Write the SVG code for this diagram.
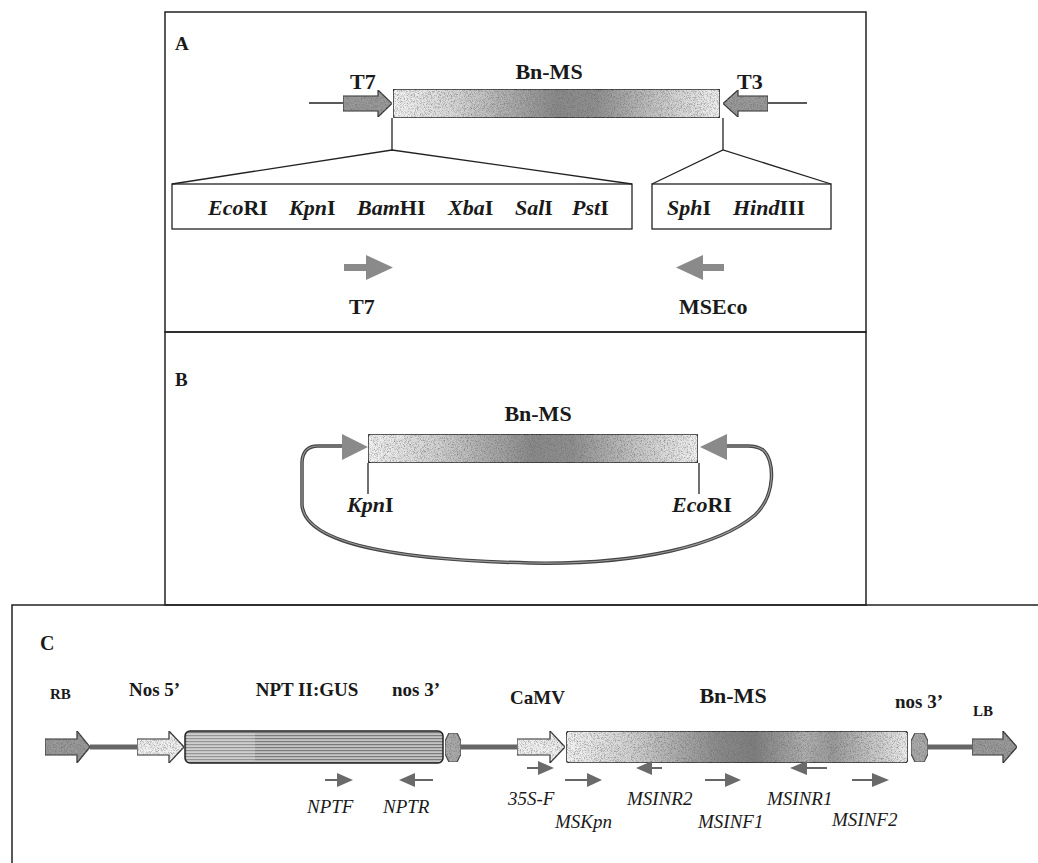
<svg xmlns="http://www.w3.org/2000/svg" width="1038" height="863" viewBox="0 0 1038 863">
<defs>
  <linearGradient id="gBar" x1="0" x2="1" y1="0" y2="0">
    <stop offset="0" stop-color="#f4f4f4"/>
    <stop offset="0.2" stop-color="#d4d4d4"/>
    <stop offset="0.5" stop-color="#8a8a8a"/>
    <stop offset="0.62" stop-color="#909090"/>
    <stop offset="0.85" stop-color="#d0d0d0"/>
    <stop offset="1" stop-color="#f2f2f2"/>
  </linearGradient>
  <linearGradient id="gBarC" x1="0" x2="1" y1="0" y2="0">
    <stop offset="0" stop-color="#f4f4f4"/>
    <stop offset="0.2" stop-color="#d0d0d0"/>
    <stop offset="0.45" stop-color="#8a8a8a"/>
    <stop offset="0.55" stop-color="#7e7e7e"/>
    <stop offset="0.7" stop-color="#b0b0b0"/>
    <stop offset="0.78" stop-color="#9a9a9a"/>
    <stop offset="1" stop-color="#eeeeee"/>
  </linearGradient>
  <pattern id="hstripe" width="4" height="3" patternUnits="userSpaceOnUse">
    <rect width="4" height="3" fill="#c4c4c4"/>
    <rect width="4" height="1.2" fill="#7a7a7a"/>
  </pattern>
  <filter id="grain" x="0" y="0" width="1" height="1">
    <feTurbulence type="fractalNoise" baseFrequency="1.3" numOctaves="1" seed="4" result="n"/>
    <feColorMatrix in="n" type="matrix" values="0 0 0 0 0.15  0 0 0 0 0.15  0 0 0 0 0.15  0 0 0 2.2 -0.95" result="dots"/>
    <feComposite in="dots" in2="SourceGraphic" operator="in" result="d2"/>
    <feMerge><feMergeNode in="SourceGraphic"/><feMergeNode in="d2"/></feMerge>
  </filter>
  <style>
    .border{fill:none;stroke:#222;stroke-width:1.5}
    .ln{fill:none;stroke:#222;stroke-width:1.3}
    .bar{fill:url(#gBar);stroke:#222;stroke-width:1.5;filter:url(#grain)}
    .barC{fill:url(#gBarC);stroke:#222;stroke-width:1.5;filter:url(#grain)}
    .garrow{fill:#9a9a9a;stroke:#333;stroke-width:1.2;filter:url(#grain)}
    .larrow{fill:#f0f0f0;stroke:#333;stroke-width:1.2;filter:url(#grain)}
    .sarrow{fill:#8a8a8a;stroke:none}
    .parrow{fill:#6a6a6a;stroke:none}
    .pline{stroke:#333;stroke-width:1.5;fill:none}
    .bb{stroke:#666;stroke-width:5;fill:none}
    .hex{fill:#aaa;stroke:#444;stroke-width:1.2;filter:url(#grain)}
    .t{font-family:"Liberation Serif","Times New Roman",serif;font-weight:bold;fill:#1a1a1a}
    .s22{font-size:22px}
    .s20{font-size:20px}
    .s19{font-size:19px}
    .s15{font-size:15px}
    .it{font-style:italic}
    .pr{font-family:"Liberation Serif","Times New Roman",serif;font-style:italic;font-size:19px;fill:#1a1a1a}
  </style>
</defs>

<g id="panels">
  <rect class="border" x="165" y="12" width="701" height="320"/>
  <rect class="border" x="165" y="332" width="701" height="273"/>
  <rect class="border" x="12" y="605" width="1040" height="270"/>
</g>

<g id="panelA">
  <text class="t s19" x="175" y="50">A</text>
  <g id="A-T7">
    <line class="ln" x1="309" y1="103" x2="343" y2="103"/>
    <path class="garrow" d="M343,96 L378,96 L378,90 L392,103.5 L378,117 L378,111 L343,111 Z"/>
    <text class="t s22" x="350" y="89">T7</text>
  </g>
  <g id="A-BnMS">
    <rect class="bar" x="393" y="89" width="327" height="29" rx="3"/>
    <text class="t s22" x="549" y="79" text-anchor="middle">Bn-MS</text>
  </g>
  <g id="A-T3">
    <line class="ln" x1="768" y1="103" x2="807" y2="103"/>
    <path class="garrow" d="M768,96 L738,96 L738,90 L723,103.5 L738,117 L738,111 L768,111 Z"/>
    <text class="t s22" x="737" y="89">T3</text>
  </g>
  <g id="A-MCS1">
    <rect class="ln" x="172" y="184" width="460" height="45"/>
    <text class="t s22" y="215"><tspan x="208" class="it">Eco</tspan><tspan>RI</tspan></text>
    <text class="t s22" y="215"><tspan x="289" class="it">Kpn</tspan><tspan>I</tspan></text>
    <text class="t s22" y="215"><tspan x="357" class="it">Bam</tspan><tspan>HI</tspan></text>
    <text class="t s22" y="215"><tspan x="448" class="it">Xba</tspan><tspan>I</tspan></text>
    <text class="t s22" y="215"><tspan x="515" class="it">Sal</tspan><tspan>I</tspan></text>
    <text class="t s22" y="215"><tspan x="572" class="it">Pst</tspan><tspan>I</tspan></text>
  </g>
  <g id="A-MCS2">
    <rect class="ln" x="652" y="184" width="179" height="45"/>
    <text class="t s22" y="215"><tspan x="667" class="it">Sph</tspan><tspan>I</tspan></text>
    <text class="t s22" y="215"><tspan x="733" class="it">Hind</tspan><tspan>III</tspan></text>
  </g>
  <g id="A-primerT7">
    <path class="sarrow" d="M344,264 L366,264 L366,255 L393,267.5 L366,280 L366,271 L344,271 Z"/>
    <text class="t s22" x="349" y="314">T7</text>
  </g>
  <g id="A-primerMSEco">
    <path class="sarrow" d="M724,264 L703,264 L703,255 L676,267.5 L703,280 L703,271 L724,271 Z"/>
    <text class="t s22" x="679" y="314">MSEco</text>
  </g>
</g>

<g id="panelB">
  <text class="t s19" x="175" y="386">B</text>
  <g id="B-BnMS">
    <rect class="bar" x="368" y="434" width="330" height="29" rx="3"/>
    <text class="t s22" x="538" y="421" text-anchor="middle">Bn-MS</text>
  </g>
  <g id="B-KpnI">
    <text class="t s22" y="512"><tspan x="347" class="it">Kpn</tspan><tspan>I</tspan></text>
  </g>
  <g id="B-EcoRI">
    <text class="t s22" y="512"><tspan x="672" class="it">Eco</tspan><tspan>RI</tspan></text>
  </g>
</g>

<g id="panelC">
  <text class="t s20" x="40" y="650">C</text>
  <g id="C-RB">
    <path class="garrow" d="M45,739 L77,739 L77,731 L90,747 L77,763 L77,755 L45,755 Z"/>
    <text class="t s15" x="50" y="699">RB</text>
  </g>
  <g id="C-Nos5">
    <path class="larrow" d="M137,739 L169,739 L169,731 L184,747 L169,763 L169,755 L137,755 Z"/>
    <text class="t s19" x="129" y="696">Nos 5’</text>
  </g>
  <g id="C-NPT">
    <rect x="185" y="731" width="258" height="32" rx="5" fill="url(#hstripe)" stroke="#222" stroke-width="1.5"/>
    <rect x="187" y="733" width="68" height="28" fill="#fff" opacity="0.2"/>
    <text class="t s19" x="307" y="696" text-anchor="middle">NPT II:GUS</text>
  </g>
  <g id="C-nos3a">
    <path class="hex" d="M449,733 L457,733 L461,741 L461,754 L457,762 L449,762 L445,754 L445,741 Z"/>
    <text class="t s19" x="392" y="696">nos 3’</text>
  </g>
  <g id="C-CaMV">
    <path class="larrow" d="M517,739 L550,739 L550,731 L565,747 L550,763 L550,755 L517,755 Z"/>
    <text class="t s19" x="510" y="704">CaMV</text>
  </g>
  <g id="C-BnMS">
    <rect class="barC" x="566" y="731" width="342" height="32" rx="4"/>
    <text class="t s22" x="733" y="703" text-anchor="middle">Bn-MS</text>
  </g>
  <g id="C-nos3b">
    <path class="hex" d="M915,733 L924,733 L928,741 L928,754 L924,762 L915,762 L911,754 L911,741 Z"/>
    <text class="t s19" x="895" y="708">nos 3’</text>
  </g>
  <g id="C-LB">
    <path class="garrow" d="M972,739 L1003,739 L1003,731 L1017,747 L1003,763 L1003,755 L972,755 Z"/>
    <text class="t s15" x="973" y="716">LB</text>
  </g>
  <g id="C-primers">
    <line class="pline" x1="325" y1="780" x2="338" y2="780"/>
    <path class="parrow" d="M337,773 L353,780 L337,787 Z"/>
    <text class="pr" x="307" y="813">NPTF</text>
    <line class="pline" x1="412" y1="780" x2="433" y2="780"/>
    <path class="parrow" d="M415,773 L399,780 L415,787 Z"/>
    <text class="pr" x="383" y="813">NPTR</text>
    <line class="pline" x1="527" y1="768" x2="539" y2="768"/>
    <path class="parrow" d="M538,761 L554,768 L538,775 Z"/>
    <text class="pr" x="508" y="805">35S-F</text>
    <line class="pline" x1="565" y1="780" x2="588" y2="780"/>
    <path class="parrow" d="M587,773 L602,780 L587,787 Z"/>
    <text class="pr" x="555" y="828">MSKpn</text>
    <line class="pline" x1="649" y1="768" x2="662" y2="768"/>
    <path class="parrow" d="M652,761 L636,768 L652,775 Z"/>
    <text class="pr" x="627" y="805">MSINR2</text>
    <line class="pline" x1="705" y1="780" x2="726" y2="780"/>
    <path class="parrow" d="M725,773 L741,780 L725,787 Z"/>
    <text class="pr" x="698" y="828">MSINF1</text>
    <line class="pline" x1="806" y1="768" x2="827" y2="768"/>
    <path class="parrow" d="M807,761 L790,768 L807,775 Z"/>
    <text class="pr" x="767" y="805">MSINR1</text>
    <line class="pline" x1="852" y1="780" x2="873" y2="780"/>
    <path class="parrow" d="M872,773 L889,780 L872,787 Z"/>
    <text class="pr" x="832" y="826">MSINF2</text>
  </g>
</g>

<g id="connectors">
  <polyline class="ln" points="172,184 392,150 632,184"/>
  <line class="ln" x1="392" y1="118" x2="392" y2="150"/>
  <polyline class="ln" points="652,184 723,150 831,184"/>
  <line class="ln" x1="723" y1="118" x2="723" y2="150"/>
  <line class="ln" x1="368" y1="463" x2="368" y2="494"/>
  <line class="ln" x1="699" y1="463" x2="699" y2="494"/>
  <path d="M342,446 L318,446 Q303,446 302,462 L302,505 C305,545 400,560 530,563 C640,565 720,545 755,515 C776,495 775,460 763,450 Q757,446 748,446 L727,446" fill="none" stroke="#444" stroke-width="3.5"/>
  <path d="M342,446 L318,446 Q303,446 302,462 L302,505 C305,545 400,560 530,563 C640,565 720,545 755,515 C776,495 775,460 763,450 Q757,446 748,446 L727,446" fill="none" stroke="#999" stroke-width="1.2"/>
  <path class="sarrow" d="M342,434 L368,447 L342,460 Z" fill="#777"/>
  <path class="sarrow" d="M727,434 L700,447 L727,460 Z" fill="#777"/>
  <line class="bb" x1="90" y1="747" x2="137" y2="747"/>
  <line class="bb" x1="461" y1="747" x2="517" y2="747"/>
  <line class="bb" x1="928" y1="747" x2="972" y2="747"/>
</g>
</svg>
